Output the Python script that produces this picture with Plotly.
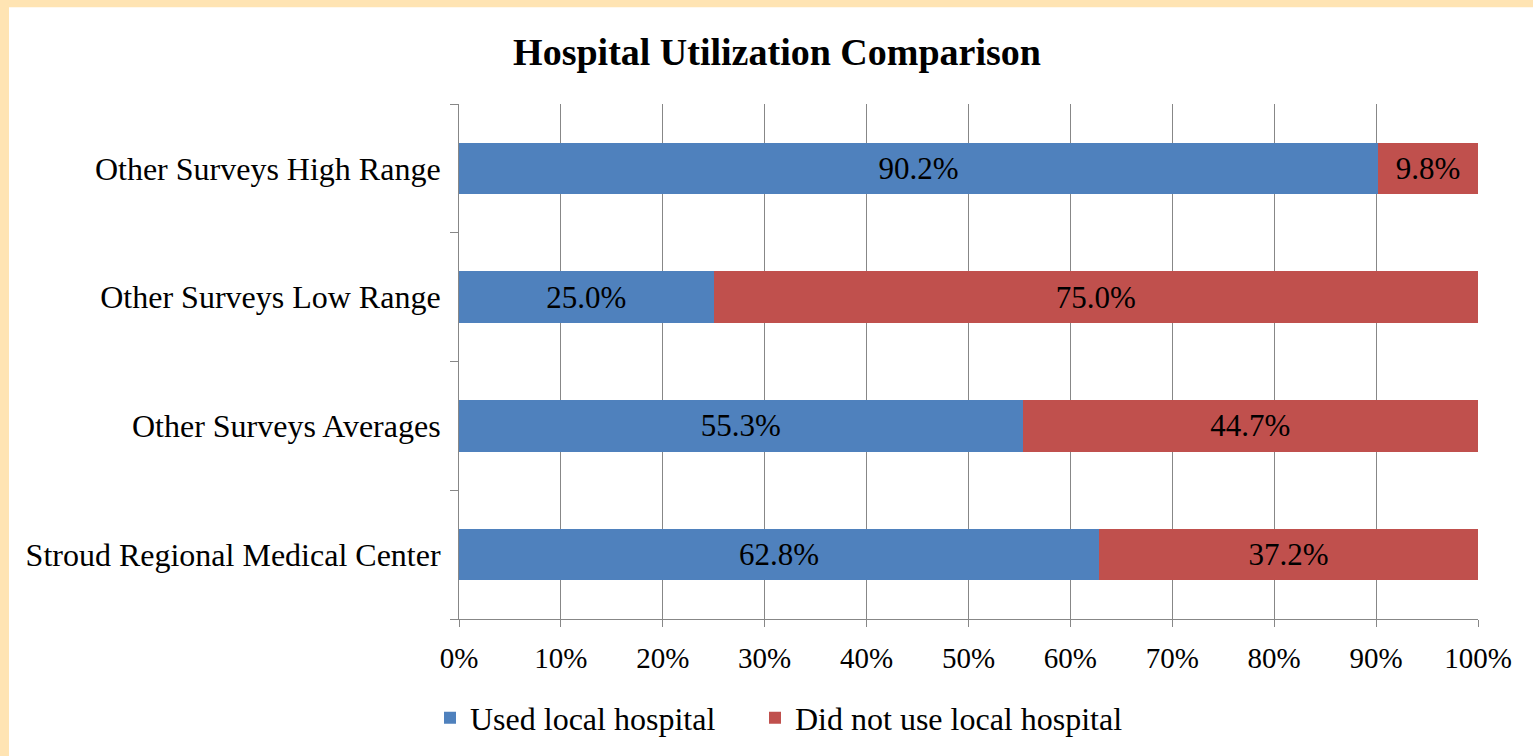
import plotly.graph_objects as go

categories = ["Stroud Regional Medical Center", "Other Surveys Averages",
              "Other Surveys Low Range", "Other Surveys High Range"]
used_local = [62.8, 55.3, 25.0, 90.2]
not_used_local = [37.2, 44.7, 75.0, 9.8]
x_ticks = list(range(0, 101, 10))

W, H = 1533, 756
L, R, T, B = 459, 55, 104, 136
pw, ph = W - L - R, H - T - B

def px_x(p):
    return (p - L) / pw

def px_y(p):
    return (H - B - p) / ph

FONT = "Liberation Serif, Times New Roman, serif"
BORDER = "#FFE4B3"

fig = go.Figure()
fig.add_trace(go.Bar(
    y=categories, x=used_local, orientation="h", name="Used local hospital",
    marker=dict(color="#4F81BD", line=dict(width=0)), legend="legend",
    texttemplate="%{x:.1f}%", textposition="inside", insidetextanchor="middle",
    textfont=dict(color="black", size=31, family=FONT), textangle=0,
))
fig.add_trace(go.Bar(
    y=categories, x=not_used_local, orientation="h", name="Did not use local hospital",
    marker=dict(color="#C0504D", line=dict(width=0)), legend="legend2",
    texttemplate="%{x:.1f}%", textposition="inside", insidetextanchor="middle",
    textfont=dict(color="black", size=31, family=FONT), textangle=0,
))

legend_common = dict(orientation="h", xanchor="left", y=px_y(718), yanchor="middle",
                     font=dict(size=32, family=FONT, color="black"),
                     itemwidth=30, bgcolor="rgba(0,0,0,0)")

fig.update_layout(
    width=W, height=H,
    margin=dict(l=L, r=R, t=T, b=B, pad=0),
    barmode="stack", bargap=0.6,
    paper_bgcolor="white", plot_bgcolor="white",
    font=dict(family=FONT, size=31, color="black"),
    title=dict(text="<b>Hospital Utilization Comparison</b>",
               x=777 / W, xref="container", xanchor="center",
               y=1 - 52 / H, yref="container", yanchor="middle",
               font=dict(size=38, family=FONT, color="black")),
    xaxis=dict(range=[0, 100], tickvals=x_ticks, ticktext=[f"{v}%" for v in x_ticks],
               showgrid=True, gridcolor="#878787", gridwidth=1,
               showline=True, linecolor="#878787", linewidth=1,
               ticks="outside", ticklen=7, tickcolor="#878787",
               ticklabelstandoff=6, zeroline=False,
               tickfont=dict(size=29, family=FONT, color="black"), fixedrange=True),
    yaxis=dict(categoryorder="array", categoryarray=categories,
               showgrid=False, showline=True, linecolor="#878787", linewidth=1,
               ticks="outside", ticklen=8, tickcolor="#878787", tickson="boundaries",
               ticklabelstandoff=11,
               tickfont=dict(size=32, family=FONT, color="black"), fixedrange=True),
    legend=dict(x=px_x(443 - 13), **legend_common),
    legend2=dict(x=px_x(768 - 13), **legend_common),
    showlegend=True,
    shapes=[
        dict(type="rect", xref="paper", yref="paper", layer="above",
             x0=px_x(-20), x1=px_x(W + 20), y0=px_y(7), y1=px_y(-20),
             fillcolor=BORDER, line=dict(width=0)),
        dict(type="rect", xref="paper", yref="paper", layer="above",
             x0=px_x(-20), x1=px_x(9), y0=px_y(H + 20), y1=px_y(-20),
             fillcolor=BORDER, line=dict(width=0)),
    ],
)

fig.write_html("out.html", config={"displayModeBar": False},
               post_script="document.body.style.margin='0';document.body.style.overflow='hidden';")
